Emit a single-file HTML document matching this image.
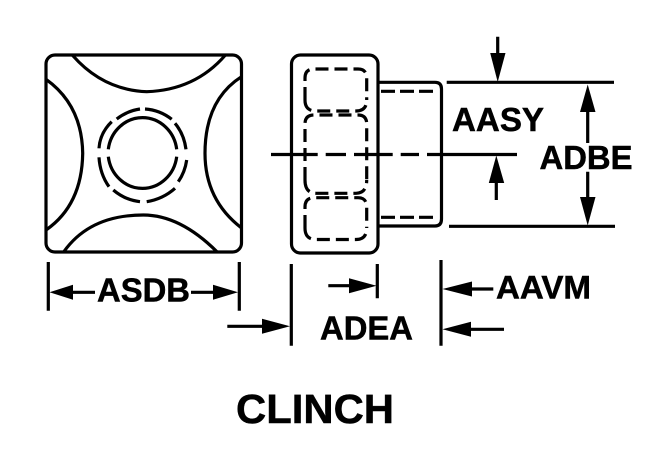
<!DOCTYPE html>
<html>
<head>
<meta charset="utf-8">
<style>
html,body{margin:0;padding:0;background:#fff;width:660px;height:458px;overflow:hidden}
svg{display:block}
text{font-family:"Liberation Sans",Arial,sans-serif;font-weight:bold;fill:#000;stroke:#000;stroke-width:.5}
</style>
</head>
<body>
<svg width="660" height="458" viewBox="0 0 660 458" xmlns="http://www.w3.org/2000/svg">
<g fill="none" stroke="#000" stroke-width="3.2">
  <!-- front view -->
  <rect x="46" y="55" width="195.5" height="197" rx="9"/>
  <path d="M72.7 55.5Q103 90 146.7 91.7Q195 90 225 55.5"/>
  <path d="M64 251.5Q90 215 143.3 215Q180 215 216.7 251.5"/>
  <path d="M46 79.3Q82 105 82.7 153.3Q82 205 46 230"/>
  <path d="M241.5 76.7Q205 100 205 153.3Q205 200 241.5 228"/>
  <path d="M108.3 149.3A34.5 36.5 0 0 1 176.7 149.3"/>
  <path d="M176.7 156.7A34.5 36.5 0 0 1 108.3 156.7"/>
  <path d="M145 109Q160 110 171.7 119.3"/>
  <path d="M175 123.3Q184 134 186 149.3"/>
  <path d="M186.7 160Q185 172 178.3 181.7"/>
  <path d="M175 188.3Q163 199 146.7 201.7"/>
  <path d="M140 201.7Q125 200 113.3 190"/>
  <path d="M109 186.7Q100 174 99 157.3"/>
  <path d="M99 148.3Q100 133 111.7 121.7"/>
  <path d="M116.7 119Q127 111 140 109"/>
  <!-- side view -->
  <rect x="291.5" y="55" width="86.5" height="198" rx="9"/>
  <path d="M378 82.3H435Q441.5 82.3 441.5 89V219Q441.5 226 435 226H378"/>
  <path d="M381 91.3H437M381 217.3H437" stroke-dasharray="14 5"/>
  <g stroke-dasharray="13 6">
    <path d="M305 100V78Q305 69 314 69H358Q366.7 69 366.7 78V100"/>
    <path d="M305 100Q305 111 316 111H356Q366.7 111 366.7 100"/>
    <path d="M305 180V124Q305 115 314 115H358Q366.7 115 366.7 124V180"/>
    <path d="M305 180Q305 193.3 316 193.3H356Q366.7 193.3 366.7 180"/>
    <path d="M305 228V207Q305 197.7 314 197.7H358Q366.7 197.7 366.7 207V228"/>
    <path d="M305 228Q305 239.5 316 239.5H356Q366.7 239.5 366.7 228"/>
  </g>
  <!-- centre line -->
  <path d="M271 154.5H317.7M325.7 154.5H346M354 154.5H392.7M400.7 154.5H419M427 154.5H517"/>
  <!-- extension lines -->
  <path d="M446.7 82.3H614M449 226.3H615"/>
  <path d="M48.3 262V310.7M239.3 262V310.7M291.3 264V345.7M377.3 264V298.3M441 260V345.7"/>
  <!-- arrow shafts -->
  <path d="M497.7 36.7V56M496.3 180V200M587.7 110V143M587.7 171.7V199"/>
  <path d="M70 292.3H95M191 292.3H216M227.3 326.3H265M328.3 285.7H352M469 289H493.3M468 329.3H504"/>
</g>
<g fill="#000">
  <polygon points="497.7,82 490.2,53 505.5,53"/>
  <polygon points="496.3,155.5 488.8,183 504.2,183"/>
  <polygon points="587.7,84.5 580,112 595.5,112"/>
  <polygon points="587.7,225.5 580,197 595.5,197"/>
  <polygon points="49.5,292.3 73,284.8 73,299.8"/>
  <polygon points="238,292.3 213,284.8 213,299.8"/>
  <polygon points="290,326.3 262,318.8 262,333.8"/>
  <polygon points="376.5,285.7 349,278.2 349,293.2"/>
  <polygon points="442.5,289 472,281.5 472,296.5"/>
  <polygon points="442.5,329.3 471,321.8 471,336.8"/>
</g>
<text x="452" y="131" font-size="33" textLength="92" lengthAdjust="spacingAndGlyphs">AASY</text>
<text x="539.5" y="169" font-size="33" textLength="93" lengthAdjust="spacingAndGlyphs">ADBE</text>
<text x="97" y="301.7" font-size="33" textLength="93" lengthAdjust="spacingAndGlyphs">ASDB</text>
<text x="496" y="298.3" font-size="32" textLength="95" lengthAdjust="spacingAndGlyphs">AAVM</text>
<text x="320" y="339.3" font-size="33" textLength="93" lengthAdjust="spacingAndGlyphs">ADEA</text>
<text x="236" y="423" font-size="41" textLength="158" lengthAdjust="spacingAndGlyphs">CLINCH</text>
</svg>
</body>
</html>
